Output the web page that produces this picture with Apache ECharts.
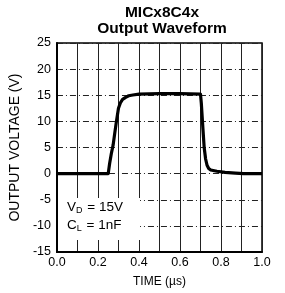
<!DOCTYPE html>
<html><head><meta charset="utf-8">
<script src="https://cdn.jsdelivr.net/npm/echarts@6/dist/echarts.min.js"></script>
<style>html,body{margin:0;padding:0;background:#fff}#c{width:285px;height:293px}</style>
</head><body><div id="c"></div>
<script>
var titleLines = ['MICx8C4x', 'Output Waveform'];
var xName = 'TIME (µs)';
var yName = 'OUTPUT VOLTAGE (V)';
var timeUs = [0, 0.25, 0.257, 0.265, 0.274, 0.282, 0.29, 0.30, 0.31, 0.32, 0.335, 0.35, 0.37, 0.40, 0.50, 0.60, 0.70, 0.704, 0.708, 0.712, 0.718, 0.725, 0.732, 0.74, 0.75, 0.78, 0.82, 0.87, 0.91, 1.0];
var volts  = [0, 0, 2, 3.8, 5.5, 7.8, 10, 12.5, 13.6, 14.2, 14.6, 14.9, 15.05, 15.2, 15.3, 15.3, 15.2, 13.5, 11, 8.5, 5, 2.8, 1.6, 1.0, 0.7, 0.45, 0.25, 0.1, 0, 0];
var xTicks = [0, 0.2, 0.4, 0.6, 0.8, 1.0];
var yTicks = [-15, -10, -5, 0, 5, 10, 15, 20, 25];

var data = timeUs.map(function(t, i){ return [t, volts[i]]; });
var chart = echarts.init(document.getElementById('c'));
var font = 'Liberation Sans, Arial, sans-serif';
var rich = {
  n: {fontFamily: font, fontSize: 13.5, fill: '#000'},
  s: {fontFamily: font, fontSize: 9, fill: '#000', padding: [7, 1, 0, 0]}
};
chart.setOption({
  animation: false,
  title: {
    text: titleLines.join('\n'),
    left: 157, top: -1, textAlign: 'center',
    textStyle: {fontFamily: font, fontWeight: 'bold', fontSize: 15.5, lineHeight: 16.5, color: '#000'}
  },
  grid: {left: 55, right: 23, top: 43, bottom: 39, show: true, borderColor: '#000', borderWidth: 1.5, backgroundColor: 'transparent'},
  xAxis: {
    type: 'value', min: 0, max: 1, interval: 0.1,
    name: xName, nameLocation: 'middle', nameGap: 24,
    nameTextStyle: {fontFamily: font, fontSize: 12, color: '#000'},
    axisLine: {show: true, onZero: false, lineStyle: {color: '#000', width: 2}},
    axisTick: {show: false},
    axisLabel: {fontFamily: font, fontSize: 12.5, color: '#000', margin: 4,
      formatter: function(v){ var r = Math.round(v*10); return (r%2===0) ? (r/10).toFixed(1) : ''; }},
    splitLine: {show: true, lineStyle: {color: '#222', width: 1}}
  },
  yAxis: {
    type: 'value', min: -15, max: 25, interval: 5,
    name: yName, nameLocation: 'middle', nameGap: 32,
    nameTextStyle: {fontFamily: font, fontSize: 14, color: '#000'},
    axisLine: {show: true, lineStyle: {color: '#000', width: 2}},
    axisTick: {show: false},
    axisLabel: {fontFamily: font, fontSize: 12.5, color: '#000', margin: 6},
    splitLine: {show: true, lineStyle: {color: '#222', width: 1, type: [6, 3, 1, 3]}}
  },
  graphic: [
    {type: 'rect', shape: {x: 58, y: 198, width: 82, height: 42}, style: {fill: '#fff'}, z: 50},
    {type: 'text', left: 67, top: 200, z: 60, style: {text: '{n|V}{s|D}{n| = 15V}', rich: rich}},
    {type: 'text', left: 67, top: 218, z: 60, style: {text: '{n|C}{s|L}{n| = 1nF}', rich: rich}}
  ],
  series: [{
    type: 'line', data: data, showSymbol: false,
    lineStyle: {color: '#000', width: 3.2, join: 'round'}, z: 10
  }]
});
</script></body></html>
